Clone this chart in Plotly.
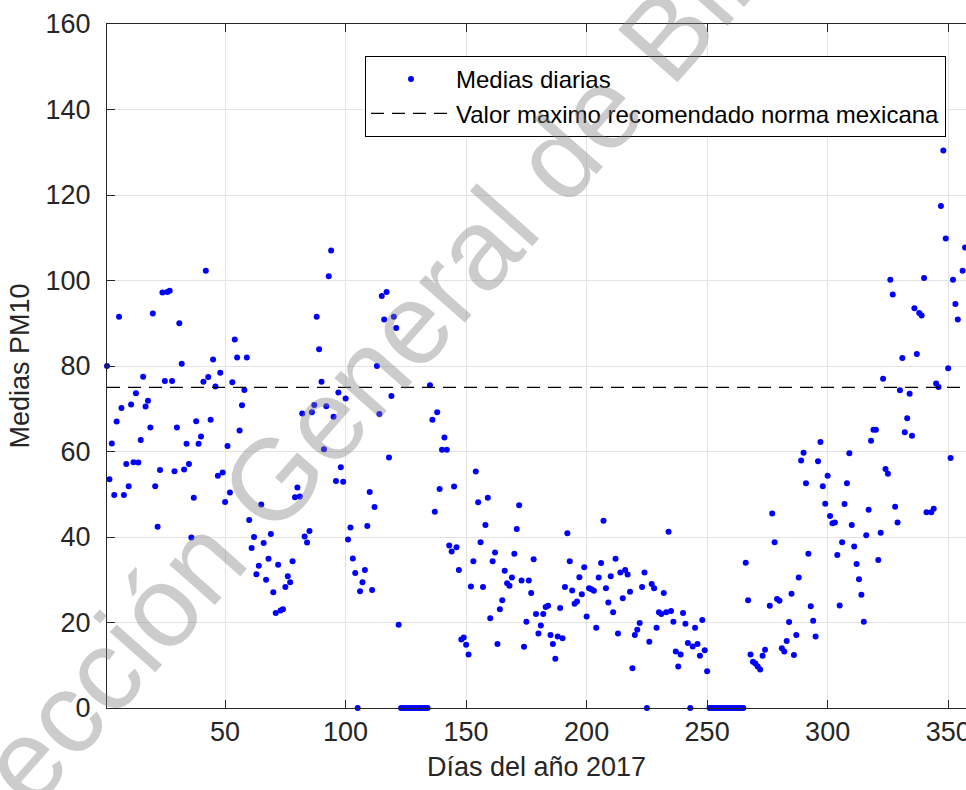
import plotly.graph_objects as go

# ---- data ----
dias = list(range(1, 123)) + list(range(123, 135)) + list(range(135, 251)) + list(range(251, 266)) + \
    list(range(266, 275)) + list(range(276, 342)) + list(range(343, 355)) + list(range(356, 363))

medias = [
    80, 53.5, 61.9, 49.8, 67, 91.5, 70.2, 49.8, 57.1, 51.9,
    71, 57.5, 73.6, 57.4, 62.7, 77.5, 70.5, 71.9, 65.6, 92.3,
    51.9, 42.4, 55.7, 97.2, 76.5, 97.3, 97.6, 76.5, 55.4, 65.6,
    90, 80.5, 55.8, 61.8, 57.1, 39.9, 49.2, 67.1, 61.8, 63.5,
    76.3, 102.3, 77.4, 67.4, 81.5, 75.2, 54.3, 78.4, 55.1, 48.2,
    61.3, 50.4, 76.2, 86.2, 82, 64.9, 70.8, 74.4, 82, 44,
    37.4, 40, 31.3, 33.3, 47.6, 38.6, 30, 34.9, 40.7, 27.1,
    22.2, 33.5, 22.8, 23.1, 28.3, 30.8, 29.4, 34.3, 49.3, 51.6,
    49.5, 68.9, 40.1, 38.7, 41.4, 69.2, 70.9, 91.5, 83.9, 76.3,
    60.5, 70.6, 101, 107, 68.1, 53.1, 73.8, 56.3, 52.9, 72.4,
    39.4, 42.2, 35, 31.6, 0, 27.3, 29.4, 32.3, 42.6, 50.5,
    27.6, 47, 80, 68.8, 96.4, 90.9, 97.3, 58.6, 73, 91.5,
    88.9, 19.5,
    # 123-134
    0, 0, 0, 0, 0, 0, 0, 0, 0, 0, 0, 0,
    # 135-250
    75.5, 67.4, 45.9, 69.2, 51.2, 60.4, 63.3, 60.4, 38, 36.6,
    51.8, 37.6, 32.3, 16, 16.5, 14.8, 12.5, 28.4, 34.3, 55.3,
    48.1, 38.8, 28.3, 42.8, 49.2, 21, 34.3, 36.4, 15, 23.1,
    25.2, 32.1, 29.2, 28.6, 30.5, 36.1, 41.9, 47.4, 29.8, 14.3,
    20.2, 29.8, 26.9, 34.8, 22, 17.4, 19.3, 22, 23.6, 23.9,
    17.1, 15, 11.5, 16.7, 23.4, 16.3, 28.3, 40.9, 34.3, 27.5,
    24.4, 24.9, 30.6, 26.6, 32.9, 21.4, 28, 27.8, 27.4, 18.8,
    30.5, 33.9, 43.8, 28, 24.7, 30.8, 22.4, 34.9, 17.4, 31.7,
    25.7, 32.3, 31.2, 27.2, 9.3, 17.1, 18.3, 19.9, 28.3, 31.7,
    0, 15.5, 29, 28, 18.8, 22.4, 22, 26.9, 22.4, 41.2,
    22.7, 20.2, 13.2, 9.7, 12.5, 22.2, 19.7, 15.2, 0, 14.4,
    18.8, 15, 12.2, 20.6, 13.5, 8.6,
    # 251-265
    0, 0, 0, 0, 0, 0, 0, 0, 0, 0, 0, 0, 0, 0, 0,
    # 266-274
    34, 25.2, 12.5, 10.8, 10.4, 9.7, 9, 12.2, 13.6,
    # 276-341
    23.9, 45.5, 38.8, 25.5, 25.1, 14, 13.2, 15.7, 20.1, 26.7,
    12.4, 17.1, 30.5, 57.9, 59.7, 52.6, 36.1, 23.8, 20.4, 16.7,
    57.7, 62.2, 51.9, 47.8, 54.3, 44.9, 43.2, 43.4, 35.8, 24,
    38.8, 47.7, 52.6, 59.6, 42.8, 37.8, 33.7, 30.1, 26.5, 20.2,
    40.4, 46.4, 62.5, 65.1, 65.1, 34.6, 41, 77, 55.9, 54.8,
    100.2, 96.7, 47.1, 43.4, 74.3, 81.9, 64.5, 67.8, 73.5, 63.7,
    93.5, 82.8, 92.4, 91.8, 100.6, 45.8,
    # 343-354
    45.8, 46.6, 75.9, 75.1, 117.4, 130.4, 109.8, 79.5, 58.5, 100.2,
    94.5, 90.9,
    # 356-362
    102.3, 107.7, 77, 63.9, 64.5, 77.1, 56,
]

valor_norma = 75
dias_norma = [1, 365]

x_ticks = [50, 100, 150, 200, 250, 300, 350]
y_ticks = [0, 20, 40, 60, 80, 100, 120, 140, 160]

n = min(len(dias), len(medias))
dias = dias[:n]
medias = medias[:n]

FONT = "Liberation Sans, Arial, sans-serif"
AX = "#262626"

fig = go.Figure()
fig.add_trace(go.Scatter(
    x=dias, y=medias, mode="markers", name="Medias diarias",
    marker=dict(color="#0000ff", size=6),
    cliponaxis=False,
))
fig.add_trace(go.Scatter(
    x=dias_norma, y=[valor_norma] * len(dias_norma), mode="lines",
    name="Valor maximo recomendado norma mexicana",
    line=dict(color="#000000", width=1.3, dash="13px,8px"),
))

fig.add_annotation(
    text="Dirección General de Bibliotecas", xref="paper", yref="paper",
    x=0.4075, y=0.6389, xanchor="center", yanchor="middle",
    showarrow=False, textangle=-48.5,
    font=dict(family="Liberation Sans, Arial, sans-serif", size=115,
              color="rgba(128,128,128,0.4)"),
)

fig.update_layout(
    width=966, height=790,
    margin=dict(l=107, r=0, t=24, b=82, autoexpand=False),
    paper_bgcolor="white", plot_bgcolor="white",
    font=dict(family=FONT, size=27, color=AX),
    showlegend=True,
    legend=dict(
        x=0.9767, y=0.9532, xanchor="right", yanchor="top",
        bgcolor="white", bordercolor="#000000", borderwidth=1,
        font=dict(family=FONT, size=24, color="#000000"),
        itemwidth=80, tracegroupgap=0,
    ),
    xaxis=dict(
        range=[1, 357.4], tickmode="array", tickvals=x_ticks,
        ticks="inside", ticklen=8, tickcolor=AX, automargin=False,
        ticklabeloverflow="allow",
        showline=True, linecolor=AX, linewidth=1, mirror="ticks",
        showgrid=True, gridcolor="#e3e3e3", gridwidth=1, zeroline=False,
        tickfont=dict(family=FONT, size=27, color=AX),
        title=dict(text="Días del año 2017", font=dict(family=FONT, size=27, color=AX), standoff=10),
    ),
    yaxis=dict(
        range=[0, 160], tickmode="array", tickvals=y_ticks,
        ticks="inside", ticklen=8, tickcolor=AX, automargin=False,
        showline=True, linecolor=AX, linewidth=1, mirror=False,
        showgrid=True, gridcolor="#e3e3e3", gridwidth=1, zeroline=False,
        tickfont=dict(family=FONT, size=27, color=AX),
        ticklabelstandoff=10,
        title=dict(text="Medias PM10", font=dict(family=FONT, size=27, color=AX), standoff=8),
    ),
)

fig.write_html(
    "out.html",
    config={"displayModeBar": False},
    post_script=(
        "document.documentElement.style.margin='0';"
        "document.body.style.margin='0';"
        "document.documentElement.style.overflow='hidden';"
        "document.body.style.overflow='hidden';"
    ),
)
